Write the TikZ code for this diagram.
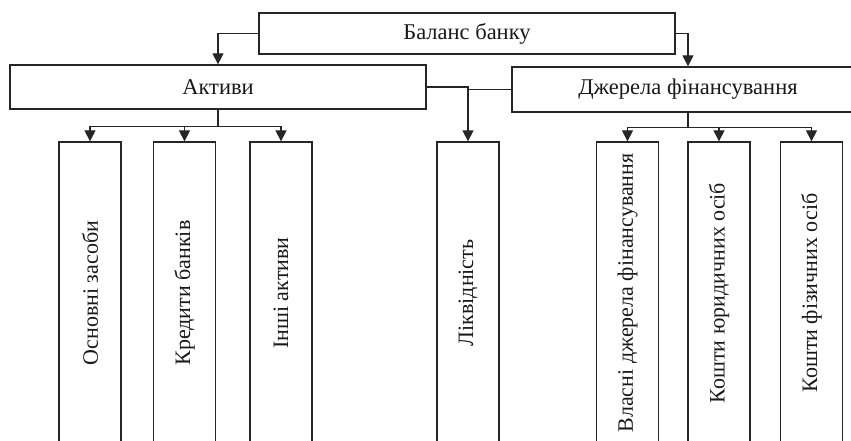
\documentclass[tikz,border=0pt]{standalone}
\usepackage{fontspec}
\setmainfont{Liberation Serif}
\usetikzlibrary{arrows.meta}

\begin{document}
\begin{tikzpicture}[x=1pt,y=-1pt]
        % Define styles
        \tikzset{
            block/.style={rectangle, draw=black!85, line width=1.3pt, text=black!90, font=\fontsize{22}{25}\selectfont, inner sep=0pt},
            wide/.style={block, font=\fontsize{22.5}{25}\selectfont},
            item/.style={block, rotate=90, minimum width=302pt, minimum height=62pt},
            arrow/.style={-{Triangle[width=11pt,length=11pt]}, draw=black!85, line width=1.3pt},
            line/.style={draw=black!85, line width=1.3pt}
        }
        \clip (0,0) rectangle (851,441);

        % Nodes
        \node[wide, minimum width=416pt, minimum height=41pt] (balance_node) at (467,33.5) {Баланс банку};
        \node[wide, minimum width=416pt, minimum height=44pt] (assets_node) at (218,87) {Активи};
        \node[wide, minimum width=352pt, minimum height=45pt] (sources_node) at (688,89.5) {Джерела фінансування};

        \node[item] (fixed_node) at (90,293) {Основні засоби};
        \node[item] (credit_node) at (184.5,293) {Кредити банків};
        \node[item] (other_node) at (281,293) {Інші активи};
        \node[item] (liquid_node) at (468,293) {Ліквідність};
        \node[item] (own_node) at (627.5,293) {Власні джерела фінансування};
        \node[item] (legal_node) at (719,293) {Кошти юридичних осіб};
        \node[item] (private_node) at (811.5,293) {Кошти фізичних осіб};

        % Arrows
        \draw[arrow] (balance_node.west) -| (assets_node.north);
        \draw[arrow] (balance_node.east) -| (sources_node.north);
        \draw[arrow] (assets_node.east) -| (liquid_node.east);
        \draw[line] (sources_node.west) -- (sources_node.west -| liquid_node.east);

        \draw[line] (assets_node.south) -- ++(0,17) coordinate (assets_bar);
        \draw[arrow] (assets_bar) -| (fixed_node.east);
        \draw[arrow] (assets_bar) -| (credit_node.east);
        \draw[arrow] (assets_bar) -| (other_node.east);

        \draw[line] (sources_node.south) -- ++(0,15) coordinate (sources_bar);
        \draw[arrow] (sources_bar) -| (own_node.east);
        \draw[arrow] (sources_bar) -| (legal_node.east);
        \draw[arrow] (sources_bar) -| (private_node.east);
\end{tikzpicture}
\end{document}
